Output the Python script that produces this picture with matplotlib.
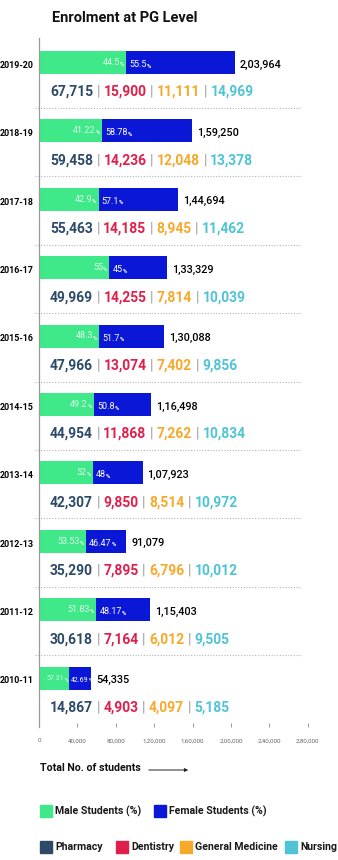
import matplotlib
matplotlib.use("Agg")
import matplotlib.pyplot as plt
from matplotlib.patches import Rectangle, FancyArrowPatch

plt.rcParams['font.family'] = ['Roboto', 'DejaVu Sans']

# Data
years = ["2019-20", "2018-19", "2017-18", "2016-17", "2015-16",
         "2014-15", "2013-14", "2012-13", "2011-12", "2010-11"]
totals = [203964, 159250, 144694, 133329, 130088, 116498, 107923, 91079, 115403, 54335]
total_labels = ["2,03,964", "1,59,250", "1,44,694", "1,33,329", "1,30,088",
                "1,16,498", "1,07,923", "91,079", "1,15,403", "54,335"]
male_pct = [44.5, 41.22, 42.9, 55, 48.3, 49.2, 52, 53.53, 51.83, 57.31]
female_pct = [55.5, 58.78, 57.1, 45, 51.7, 50.8, 48, 46.47, 48.17, 42.69]
male_labels = ["44.5", "41.22", "42.9", "55", "48.3", "49.2", "52", "53.53", "51.83", "57.31"]
female_labels = ["55.5", "58.78", "57.1", "45", "51.7", "50.8", "48", "46.47", "48.17", "42.69"]
pharmacy = [67715, 59458, 55463, 49969, 47966, 44954, 42307, 35290, 30618, 14867]
dentistry = [15900, 14236, 14185, 14255, 13074, 11868, 9850, 7895, 7164, 4903]
gen_medicine = [11111, 12048, 8945, 7814, 7402, 7262, 8514, 6796, 6012, 4097]
nursing = [14969, 13378, 11462, 10039, 9856, 10834, 10972, 10012, 9505, 5185]
xticks = [0, 40000, 80000, 120000, 160000, 200000, 240000, 280000]
xtick_labels = ["0", "40,000", "80,000", "1,20,000", "1,60,000", "2,00,000", "2,40,000", "2,80,000"]

GREEN = "#3fe98a"
BLUE = "#0a17d6"
C_PHARM = "#2d4a69"
C_DENT = "#e0204c"
C_GMED = "#f6a92a"
C_NURS = "#4ec4d6"
SEP = "#9a9a9a"

W, H = 338, 860
fig = plt.figure(figsize=(W / 100, H / 100), dpi=100)

def px(x0, y0, x1, y1):
    return [x0 / W, 1 - y1 / H, (x1 - x0) / W, (y1 - y0) / H]

ax = fig.add_axes(px(39, 38, 327, 727))
ax.set_xlim(0, 300000)
ax.set_ylim(9.715, -0.358)

fmt = lambda v: f"{v:,}"
rows = range(len(years))

for i in rows:
    m = totals[i] * male_pct[i] / 100
    f = totals[i] - m
    ax.barh(i, m, height=0.336, color=GREEN, left=0)
    ax.barh(i, f, height=0.336, color=BLUE, left=m)

    # percentage labels (smaller on the short last bar)
    narrow = totals[i] < 80000
    pl = 5.0 if narrow else 6.5
    sp = 3.5 if narrow else 4.2
    gap = 1 if narrow else 2
    t = ax.annotate("%", xy=(m, i + 0.03), xytext=(-gap, 0), textcoords="offset pixels",
                    ha="right", va="center", fontsize=sp, color="#dcfbe8", weight="bold")
    ax.annotate(male_labels[i], xy=(0, 0.05), xycoords=t, ha="right", va="bottom",
                fontsize=pl, color="#dcfbe8")
    t = ax.annotate(female_labels[i], xy=(m, i + 0.03), xytext=(gap + 1, 0),
                    textcoords="offset pixels", ha="left", va="center",
                    fontsize=pl, color="white")
    ax.annotate("%", xy=(1, 0.05), xycoords=t, ha="left", va="bottom",
                fontsize=sp, color="white", weight="bold")

    ax.annotate(total_labels[i], xy=(totals[i], i + 0.03), xytext=(5, 0),
                textcoords="offset pixels", ha="left", va="center",
                fontsize=7.8, color="black", weight="medium")
    ax.annotate(years[i], xy=(0, i + 0.04), xytext=(-5, 0), textcoords="offset pixels",
                ha="right", va="center", fontsize=6.4, color="black", weight="bold")

    # specialty numbers row
    vals = [(pharmacy[i], C_PHARM), (dentistry[i], C_DENT),
            (gen_medicine[i], C_GMED), (nursing[i], C_NURS)]
    t = ax.annotate(fmt(vals[0][0]), xy=(0, i + 0.43), xytext=(11, 0),
                    textcoords="offset pixels", ha="left", va="center",
                    fontsize=10, color=vals[0][1], weight="bold")
    for v, c in vals[1:]:
        s = ax.annotate("|", xy=(1, 0), xycoords=t, xytext=(3.5, 0), textcoords="offset pixels",
                        ha="left", va="bottom", fontsize=10, color=SEP)
        t = ax.annotate(fmt(v), xy=(1, 0), xycoords=s, xytext=(3.5, 0), textcoords="offset pixels",
                        ha="left", va="bottom", fontsize=10, color=c, weight="bold")

    if i < len(years) - 1:
        ax.plot([-4000, 272000], [i + 0.665, i + 0.665], color="#b5b5b5",
                linestyle=(0, (1, 1.5)), linewidth=0.8, clip_on=False)

for s in ["top", "right", "bottom"]:
    ax.spines[s].set_visible(False)
ax.spines["left"].set_color("#9a9a9a")
ax.spines["left"].set_linewidth(0.9)
ax.set_yticks([])
ax.set_xticks(xticks)
ax.set_xticklabels(xtick_labels)
ax.tick_params(axis="x", direction="in", length=3, width=0.6, color="#888888",
               labelsize=4.5, labelcolor="#666666", pad=8)

# title and axis caption
fig.text(125 / W, 1 - 18 / H, "Enrolment at PG Level", ha="center", va="center",
         fontsize=10.5, weight="bold", color="#111111")
fig.text(40 / W, 1 - 768 / H, "Total No. of students", ha="left", va="center",
         fontsize=7.7, weight="bold", color="#111111")
fig.add_artist(FancyArrowPatch((146 / W, 1 - 770 / H), (191 / W, 1 - 770 / H),
               transform=fig.transFigure, arrowstyle="-|>", mutation_scale=5,
               linewidth=0.7, color="#222222"))

# legends
def legend_item(x, y, color, label):
    fig.add_artist(Rectangle((x / W, 1 - (y + 6) / H), 12 / W, 12 / H,
                             transform=fig.transFigure, color=color))
    fig.text((x + 15) / W, 1 - y / H, label, ha="left", va="center",
             fontsize=7.6, weight="bold", color="#1a1a1a")

legend_item(40, 811, GREEN, "Male Students (%)")
legend_item(154, 811, BLUE, "Female Students (%)")
legend_item(40, 847, C_PHARM, "Pharmacy")
legend_item(116, 847, C_DENT, "Dentistry")
legend_item(180, 847, C_GMED, "General Medicine")
legend_item(285, 847, C_NURS, "Nursing")

fig.savefig("out.png", dpi=100, facecolor="white")
